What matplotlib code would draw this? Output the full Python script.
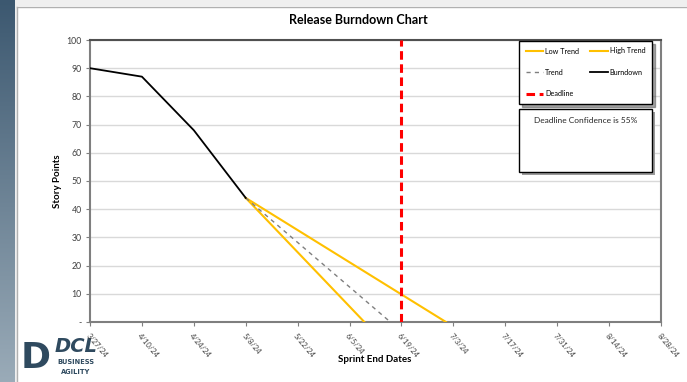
import datetime as dt
import numpy as np
import matplotlib
matplotlib.use("Agg")
import matplotlib.pyplot as plt
from matplotlib.lines import Line2D
from matplotlib.patches import Rectangle
from matplotlib.colors import LinearSegmentedColormap

plt.rcParams['font.family'] = ['Lato', 'DejaVu Sans']

# ---- data ----
sprint_dates = ["2024-03-27", "2024-04-10", "2024-04-24", "2024-05-08"]
burndown = [90, 87, 68, 44]
trend_start = ("2024-05-08", 44)
low_trend_end = ("2024-06-09", 0)
trend_end = ("2024-06-16", 0)
high_trend_end = ("2024-07-01", 0)
deadline = "2024-06-19"
tick_dates = ["2024-03-27", "2024-04-10", "2024-04-24", "2024-05-08", "2024-05-22",
              "2024-06-05", "2024-06-19", "2024-07-03", "2024-07-17", "2024-07-31",
              "2024-08-14", "2024-08-28"]
y_ticks = [0, 10, 20, 30, 40, 50, 60, 70, 80, 90, 100]
y_tick_labels = ["-", "10", "20", "30", "40", "50", "60", "70", "80", "90", "100"]
confidence_text = "Deadline Confidence is 55%"

def d(s):
    return dt.datetime.strptime(s, "%Y-%m-%d")

W, H = 687, 382
fig = plt.figure(figsize=(W / 100, H / 100), dpi=100)
fig.patch.set_facecolor("white")

# background decoration: left slate strip and panel border
bg = fig.add_axes([0, 0, 1, 1], zorder=-10)
bg.set_xlim(0, W); bg.set_ylim(H, 0); bg.axis("off")
grad = np.linspace(0, 1, 256).reshape(-1, 1)
cm = LinearSegmentedColormap.from_list("slate", ["#3c5870", "#9aabb8"])
bg.imshow(grad, extent=[0, 15, H, 0], cmap=cm, aspect="auto")
bg.add_patch(Rectangle((15, 0), W - 15, 6, color="#efefef", lw=0))
bg.add_patch(Rectangle((15, 0), 2, H, color="#efefef", lw=0))
bg.plot([17, W], [6.5, 6.5], color="#b0b0b0", lw=1)
bg.plot([17, 17], [6.5, H], color="#b0b0b0", lw=1)

# logo approximation
bg.text(36, 358, "D", fontsize=26, fontweight="bold", color="#2f4a5f",
        ha="center", va="center", family=["DejaVu Sans"])
bg.text(76, 346, "DCL", fontsize=14, fontweight="bold", style="italic",
        color="#2f4a5f", ha="center", va="center", family=["DejaVu Sans"])
bg.text(76, 362, "BUSINESS", fontsize=4.8, fontweight="bold", color="#2f4a5f",
        ha="center", va="center", family=["DejaVu Sans"])
bg.text(76, 372, "AGILITY", fontsize=4.8, fontweight="bold", color="#2f4a5f",
        ha="center", va="center", family=["DejaVu Sans"])

# main axes
L, R, T, B = 90, 661, 40, 322
ax = fig.add_axes([L / W, 1 - B / H, (R - L) / W, (B - T) / H])
ax.set_facecolor("white")

ax.grid(axis="y", color="#d9d9d9", lw=1)
ax.set_axisbelow(True)

bd_x = [d(s) for s in sprint_dates]
ax.plot(bd_x, burndown, color="black", lw=1.3, zorder=5)

ax.plot([d(trend_start[0]), d(low_trend_end[0])], [trend_start[1], low_trend_end[1]],
        color="#FFC000", lw=1.5, zorder=4)
ax.plot([d(trend_start[0]), d(high_trend_end[0])], [trend_start[1], high_trend_end[1]],
        color="#FFC000", lw=1.5, zorder=4)
ax.plot([d(trend_start[0]), d(trend_end[0])], [trend_start[1], trend_end[1]],
        color="#7f7f7f", lw=1.0, ls=(0, (3, 3)), zorder=4)
ax.plot([d(deadline), d(deadline)], [0, 100], color="#FF0000", lw=2.2,
        ls=(0, (2.8, 1.5)), zorder=6)

ax.set_xlim(d(tick_dates[0]), d(tick_dates[-1]))
ax.set_ylim(0, 100)
ax.set_xticks([d(s) for s in tick_dates])
ax.set_xticklabels([f"{d(s).month}/{d(s).day}/{d(s).strftime('%y')}" for s in tick_dates],
                   rotation=-50, ha="left", va="top", rotation_mode="anchor",
                   fontsize=5.5, color="#404040")
ax.set_yticks(y_ticks)
ax.set_yticklabels(y_tick_labels, fontsize=6.3, color="#404040")
ax.tick_params(axis="both", length=3, width=0.8, color="#7f7f7f", pad=3)
ax.tick_params(axis="x", pad=4)
for sp in ax.spines.values():
    sp.set_color("#7f7f7f")
    sp.set_linewidth(1.5)
ax.spines["top"].set_color("#505050")

fig.text(358 / W, 1 - 20 / H, "Release Burndown Chart", fontsize=9, fontweight="bold",
         ha="center", va="center", color="black")
fig.text(375 / W, 1 - 359 / H, "Sprint End Dates", fontsize=7, fontweight="bold",
         ha="center", va="center", color="black")
fig.text(58 / W, 1 - 181 / H, "Story Points", fontsize=7, fontweight="bold",
         ha="center", va="center", rotation=90, color="black")

# legend
handles = [
    Line2D([], [], color="#FFC000", lw=1.5, label="Low Trend"),
    Line2D([], [], color="#7f7f7f", lw=1.0, ls=(0, (3, 3)), label="Trend"),
    Line2D([], [], color="#FF0000", lw=2.2, ls=(0, (2.8, 1.5)), label="Deadline"),
    Line2D([], [], color="#FFC000", lw=1.5, label="High Trend"),
    Line2D([], [], color="black", lw=1.3, label="Burndown"),
]
lx0 = (519 - L) / (R - L); lx1 = (652 - L) / (R - L)
ly1 = (B - 41) / (B - T); ly0 = (B - 105) / (B - T)
leg = ax.legend(handles=handles, ncol=2, loc="upper left",
                bbox_to_anchor=(lx0, ly0, lx1 - lx0, ly1 - ly0), mode="expand",
                fontsize=5.2, frameon=True, fancybox=False, shadow=True,
                edgecolor="black", labelspacing=2.0, handlelength=2.4,
                handletextpad=0.3, columnspacing=0.8, borderaxespad=0,
                borderpad=0.9)
leg.get_frame().set_linewidth(1)
leg.set_zorder(10)

# confidence box
bx0 = (519 - L) / (R - L); bx1 = (652 - L) / (R - L)
by1 = (B - 109) / (B - T); by0 = (B - 172) / (B - T)
shadow = Rectangle((bx0 + 0.005, by0 - 0.012), bx1 - bx0, by1 - by0,
                   transform=ax.transAxes, facecolor="#9a9a9a", edgecolor="none",
                   zorder=9, clip_on=False)
ax.add_patch(shadow)
box = Rectangle((bx0, by0), bx1 - bx0, by1 - by0, transform=ax.transAxes,
                facecolor="white", edgecolor="black", lw=1, zorder=10, clip_on=False)
ax.add_patch(box)
ax.text((bx0 + bx1) / 2, by1 - 0.03, confidence_text, transform=ax.transAxes,
        fontsize=6, ha="center", va="top", color="#262626", zorder=11)

fig.savefig("out.png", dpi=100)
